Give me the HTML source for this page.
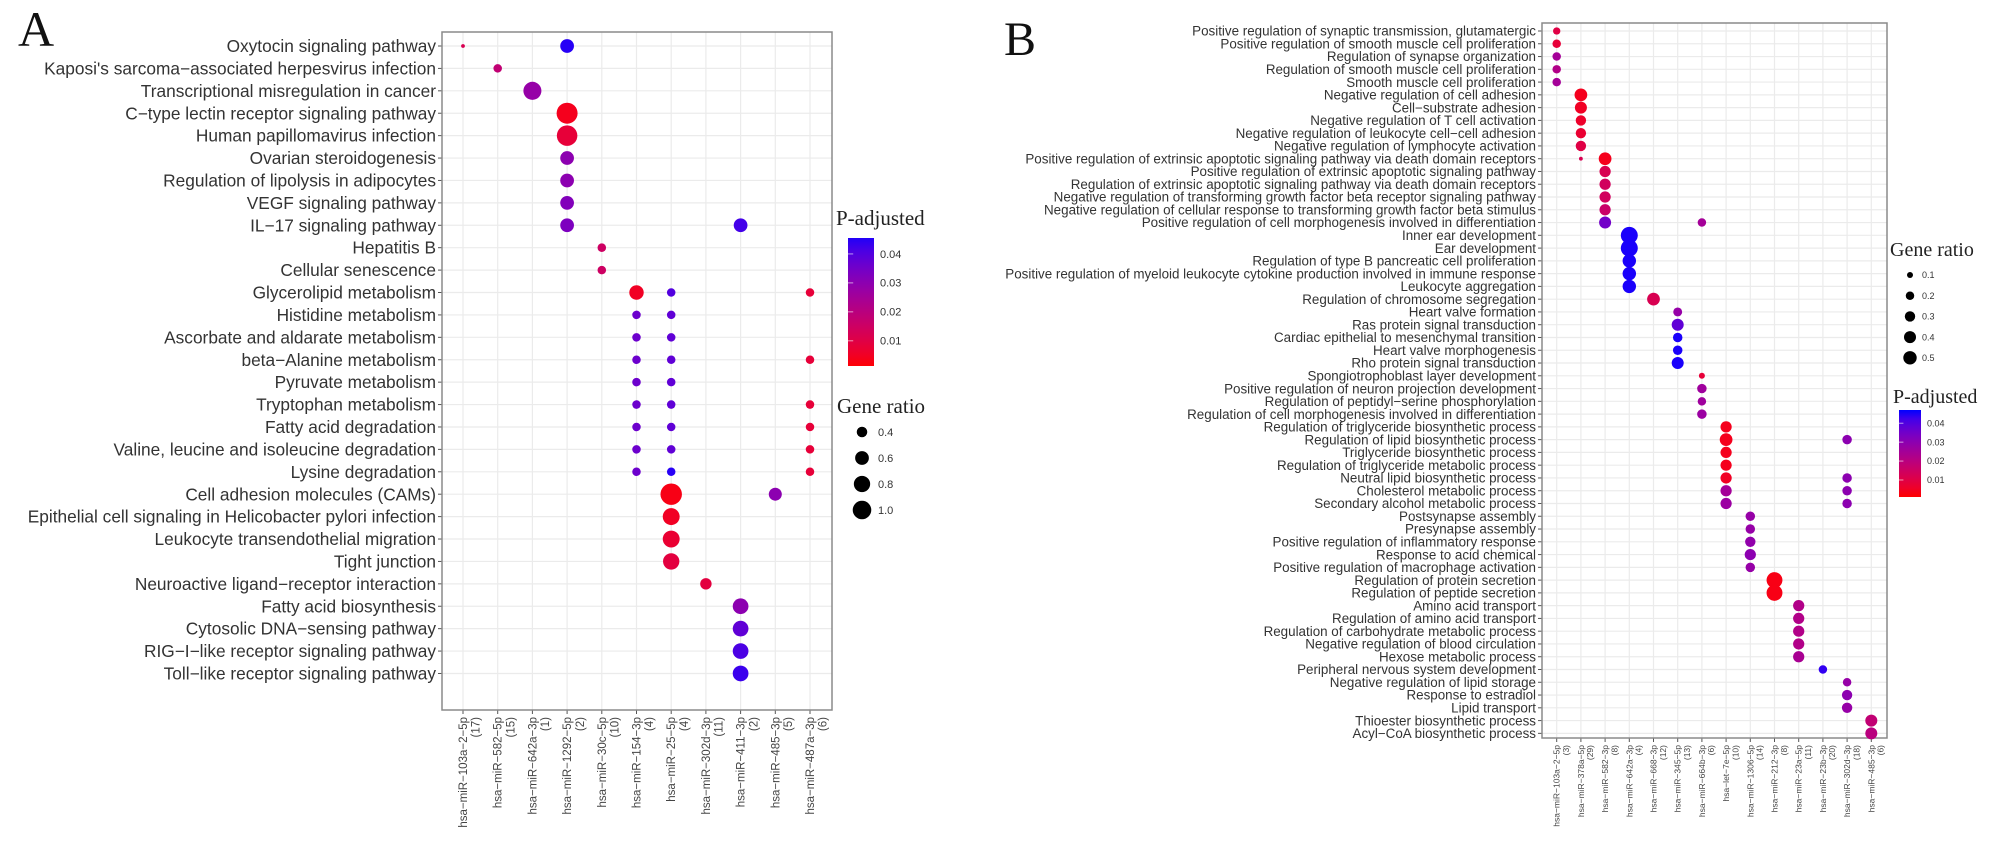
<!DOCTYPE html>
<html><head><meta charset="utf-8">
<style>
html,body{margin:0;padding:0;background:#fff;}
svg{display:block;}
text{font-family:"Liberation Sans",sans-serif;}
.serif{font-family:"Liberation Serif",serif;}
</style></head>
<body>
<svg id="fig" width="2008" height="852" viewBox="0 0 2008 852" xmlns="http://www.w3.org/2000/svg">
  <text class="serif" x="18" y="46" font-size="50" fill="#111">A</text>
  <text class="serif" x="1004" y="55" font-size="48" fill="#111">B</text>
  <g id="pa"></g>
  <g id="pb"></g>
</svg>
<script>
// ---------- Panel A data ----------
const aTerms = ["Oxytocin signaling pathway","Kaposi's sarcoma\u2212associated herpesvirus infection","Transcriptional misregulation in cancer","C\u2212type lectin receptor signaling pathway","Human papillomavirus infection","Ovarian steroidogenesis","Regulation of lipolysis in adipocytes","VEGF signaling pathway","IL\u221217 signaling pathway","Hepatitis B","Cellular senescence","Glycerolipid metabolism","Histidine metabolism","Ascorbate and aldarate metabolism","beta\u2212Alanine metabolism","Pyruvate metabolism","Tryptophan metabolism","Fatty acid degradation","Valine, leucine and isoleucine degradation","Lysine degradation","Cell adhesion molecules (CAMs)","Epithelial cell signaling in Helicobacter pylori infection","Leukocyte transendothelial migration","Tight junction","Neuroactive ligand\u2212receptor interaction","Fatty acid biosynthesis","Cytosolic DNA\u2212sensing pathway","RIG\u2212I\u2212like receptor signaling pathway","Toll\u2212like receptor signaling pathway"];
const aMirs = ["hsa\u2212miR\u2212103a\u22122\u22125p","hsa\u2212miR\u2212582\u22125p","hsa\u2212miR\u2212642a\u22123p","hsa\u2212miR\u22121292\u22125p","hsa\u2212miR\u221230c\u22125p","hsa\u2212miR\u2212154\u22123p","hsa\u2212miR\u221225\u22125p","hsa\u2212miR\u2212302d\u22123p","hsa\u2212miR\u2212411\u22123p","hsa\u2212miR\u2212485\u22123p","hsa\u2212miR\u2212487a\u22123p"];
const aCounts = ["(17)","(15)","(1)","(2)","(10)","(4)","(4)","(11)","(2)","(5)","(6)"];
const aRow   = [0,0,1,2,3,4,5,6,7,8,8,9,10,11,11,11,12,12,13,13,14,14,14,15,15,16,16,16,17,17,17,18,18,18,19,19,19,20,20,21,22,23,24,25,26,27,28];
const aCol   = [0,3,1,2,3,3,3,3,3,3,8,4,4,5,6,10,5,6,5,6,5,6,10,5,6,5,6,10,5,6,10,5,6,10,5,6,10,6,9,6,6,6,7,8,8,8,8];
const aRatio = [0.15,0.6,0.3,0.95,1.25,1.2,0.6,0.6,0.6,0.6,0.6,0.3,0.3,0.65,0.3,0.3,0.3,0.3,0.3,0.3,0.3,0.3,0.3,0.3,0.3,0.3,0.3,0.3,0.3,0.3,0.3,0.3,0.3,0.3,0.3,0.3,0.3,1.3,0.55,0.85,0.85,0.8,0.45,0.75,0.75,0.75,0.75];
const aPadj  = [0.012,0.045,0.018,0.028,0.004,0.008,0.030,0.030,0.032,0.033,0.042,0.015,0.015,0.005,0.040,0.008,0.036,0.038,0.036,0.038,0.036,0.038,0.008,0.036,0.038,0.036,0.038,0.008,0.036,0.038,0.008,0.036,0.038,0.008,0.036,0.045,0.008,0.003,0.030,0.005,0.007,0.009,0.009,0.030,0.038,0.041,0.043];
const aColTicks = [0.01,0.02,0.03,0.04];
const aSizeTicks = [0.4,0.6,0.8,1.0];

// ---------- Panel B data ----------
const bTerms = ["Positive regulation of synaptic transmission, glutamatergic","Positive regulation of smooth muscle cell proliferation","Regulation of synapse organization","Regulation of smooth muscle cell proliferation","Smooth muscle cell proliferation","Negative regulation of cell adhesion","Cell\u2212substrate adhesion","Negative regulation of T cell activation","Negative regulation of leukocyte cell\u2212cell adhesion","Negative regulation of lymphocyte activation","Positive regulation of extrinsic apoptotic signaling pathway via death domain receptors","Positive regulation of extrinsic apoptotic signaling pathway","Regulation of extrinsic apoptotic signaling pathway via death domain receptors","Negative regulation of transforming growth factor beta receptor signaling pathway","Negative regulation of cellular response to transforming growth factor beta stimulus","Positive regulation of cell morphogenesis involved in differentiation","Inner ear development","Ear development","Regulation of type B pancreatic cell proliferation","Positive regulation of myeloid leukocyte cytokine production involved in immune response","Leukocyte aggregation","Regulation of chromosome segregation","Heart valve formation","Ras protein signal transduction","Cardiac epithelial to mesenchymal transition","Heart valve morphogenesis","Rho protein signal transduction","Spongiotrophoblast layer development","Positive regulation of neuron projection development","Regulation of peptidyl\u2212serine phosphorylation","Regulation of cell morphogenesis involved in differentiation","Regulation of triglyceride biosynthetic process","Regulation of lipid biosynthetic process","Triglyceride biosynthetic process","Regulation of triglyceride metabolic process","Neutral lipid biosynthetic process","Cholesterol metabolic process","Secondary alcohol metabolic process","Postsynapse assembly","Presynapse assembly","Positive regulation of inflammatory response","Response to acid chemical","Positive regulation of macrophage activation","Regulation of protein secretion","Regulation of peptide secretion","Amino acid transport","Regulation of amino acid transport","Regulation of carbohydrate metabolic process","Negative regulation of blood circulation","Hexose metabolic process","Peripheral nervous system development","Negative regulation of lipid storage","Response to estradiol","Lipid transport","Thioester biosynthetic process","Acyl\u2212CoA biosynthetic process"];
const bMirs = ["hsa\u2212miR\u2212103a\u22122\u22125p","hsa\u2212miR\u2212378a\u22125p","hsa\u2212miR\u2212582\u22123p","hsa\u2212miR\u2212642a\u22123p","hsa\u2212miR\u2212668\u22123p","hsa\u2212miR\u2212345\u22125p","hsa\u2212miR\u2212664b\u22123p","hsa\u2212let\u22127e\u22125p","hsa\u2212miR\u22121306\u22125p","hsa\u2212miR\u2212212\u22123p","hsa\u2212miR\u221223a\u22125p","hsa\u2212miR\u221223b\u22123p","hsa\u2212miR\u2212302d\u22123p","hsa\u2212miR\u2212485\u22123p"];
const bCounts = ["(3)","(29)","(8)","(4)","(12)","(13)","(6)","(10)","(14)","(8)","(11)","(20)","(18)","(6)"];
const bRow   = [0,1,2,3,4,5,6,7,8,9,10,10,11,12,13,14,15,15,16,17,18,19,20,21,22,23,24,25,26,27,28,29,30,31,32,33,34,35,36,37,32,35,36,37,38,39,40,41,42,43,44,45,46,47,48,49,50,51,52,53,54,55];
const bCol   = [0,0,0,0,0,1,1,1,1,1,1,2,2,2,2,2,2,6,3,3,3,3,3,4,5,5,5,5,5,6,6,6,6,7,7,7,7,7,7,7,12,12,12,12,8,8,8,8,8,9,9,10,10,10,10,10,11,12,12,12,13,13];
const bRatio = [0.15,0.2,0.2,0.2,0.2,0.45,0.4,0.3,0.3,0.3,0.04,0.45,0.35,0.35,0.35,0.35,0.4,0.2,0.8,0.8,0.5,0.5,0.5,0.45,0.22,0.4,0.25,0.25,0.4,0.1,0.25,0.2,0.25,0.35,0.45,0.35,0.35,0.35,0.35,0.35,0.25,0.25,0.25,0.25,0.25,0.25,0.3,0.35,0.25,0.7,0.7,0.35,0.35,0.35,0.35,0.35,0.2,0.2,0.3,0.3,0.4,0.4];
const bPadj  = [0.010,0.008,0.025,0.022,0.025,0.004,0.005,0.006,0.007,0.010,0.012,0.004,0.012,0.014,0.014,0.016,0.035,0.025,0.046,0.046,0.046,0.046,0.046,0.012,0.028,0.038,0.046,0.046,0.046,0.008,0.026,0.026,0.027,0.004,0.004,0.004,0.004,0.005,0.025,0.027,0.030,0.030,0.030,0.030,0.028,0.028,0.029,0.030,0.028,0.003,0.003,0.022,0.022,0.022,0.022,0.024,0.044,0.028,0.030,0.028,0.018,0.020];
const bColTicks = [0.01,0.02,0.03,0.04];
const bSizeTicks = [0.1,0.2,0.3,0.4,0.5];

const NS = "http://www.w3.org/2000/svg";
function mk(parent, tag, attrs, txt){
  const e = document.createElementNS(NS, tag);
  for (const k in attrs) e.setAttribute(k, attrs[k]);
  if (txt !== undefined) e.textContent = txt;
  parent.appendChild(e);
  return e;
}
function colorOf(p){
  let t = (p - 0.001) / (0.047 - 0.001);
  t = Math.max(0, Math.min(1, t));
  const r = Math.round(255 * Math.pow(1 - t, 0.6)), b = Math.round(255 * Math.pow(t, 0.8));
  return "rgb(" + r + ",0," + b + ")";
}

function drawPanel(g, cfg){
  const xScale = c => cfg.x0 + c * cfg.dx;
  const yScale = r => cfg.y0 + r * cfg.dy;
  const rScale = v => Math.sqrt(Math.max(1, cfg.k * v + cfg.c));
  const bg = mk(g, "rect", {x:cfg.L, y:cfg.T, width:cfg.R-cfg.L, height:cfg.B-cfg.T, fill:"#fff"});
  
  
  for (let i = 0; i < cfg.terms.length; i++) {
    const y = yScale(i);
    const gl = mk(g, "line", {x1:cfg.L, x2:cfg.R, y1:y, y2:y, stroke:"#ebebeb", "stroke-width":1.2});
    
    
    const tk = mk(g, "line", {x1:cfg.L-4, x2:cfg.L, y1:y, y2:y, stroke:"#555", "stroke-width":1});
    
    
    const lb = mk(g, "text", {x:cfg.L-6, y:y+cfg.fs*0.35, "font-size":cfg.fs, "text-anchor":"end", fill:"#333"}, cfg.terms[i]);
    
    
  }
  for (let j = 0; j < cfg.mirs.length; j++) {
    const x = xScale(j);
    const gl = mk(g, "line", {x1:x, x2:x, y1:cfg.T, y2:cfg.B, stroke:"#ebebeb", "stroke-width":1.2});
    
    
    const tk = mk(g, "line", {x1:x, x2:x, y1:cfg.B, y2:cfg.B+4, stroke:"#555", "stroke-width":1});
    
    
    const ty = cfg.B + 7;
    const t1 = mk(g, "text", {x:0, y:0, "font-size":cfg.xfs, "text-anchor":"end", fill:"#444",
      transform:"translate(" + (x + cfg.xfs*0.35) + "," + ty + ") rotate(-90)"}, cfg.mirs[j]);
    
    
    const t2 = mk(g, "text", {x:0, y:0, "font-size":cfg.xfs, "text-anchor":"end", fill:"#444",
      transform:"translate(" + (x + cfg.xfs*1.45) + "," + ty + ") rotate(-90)"}, cfg.counts[j]);
    
    
  }
  const fr = mk(g, "rect", {x:cfg.L, y:cfg.T, width:cfg.R-cfg.L, height:cfg.B-cfg.T, fill:"none", stroke:"#8a8a8a", "stroke-width":1.5});
  
  
  for (let i = 0; i < cfg.row.length; i++) {
    const d = mk(g, "circle", {cx:xScale(cfg.col[i]), cy:yScale(cfg.row[i]), r:rScale(cfg.ratio[i]), fill:colorOf(cfg.padj[i])});
    
    
  }
  const lg = cfg.leg;
  const pt = mk(g, "text", {x:lg.px, y:lg.py, "font-size":lg.tfs, fill:"#222", "class":"serif"}, "P-adjusted");
  
  
  const gid = cfg.p + "grad";
  const defs = mk(g, "defs", {});
  const lgr = mk(defs, "linearGradient", {id:gid, x1:0, y1:1, x2:0, y2:0});
  for (let s = 0; s <= 10; s++) {
    const pv = lg.vmin + (lg.vmax - lg.vmin) * s / 10;
    mk(lgr, "stop", {offset:(s*10)+"%", "stop-color":colorOf(pv)});
  }
  const cb = mk(g, "rect", {x:lg.bx, y:lg.by0, width:lg.bw, height:lg.by1-lg.by0, fill:"url(#"+gid+")"});
  
  
  const cy = v => lg.by1 - (v - lg.vmin) / (lg.vmax - lg.vmin) * (lg.by1 - lg.by0);
  for (const v of cfg.colTicks) {
    const tl = mk(g, "text", {x:lg.bx+lg.bw+6, y:cy(v)+lg.lfs*0.35, "font-size":lg.lfs, fill:"#333"}, v.toFixed(2));
    
    
    const tm = mk(g, "line", {x1:lg.bx, x2:lg.bx+lg.bw*0.2, y1:cy(v), y2:cy(v), stroke:"#fff", "stroke-width":1, opacity:0.6});
    
    
  }
  const st = mk(g, "text", {x:lg.sx, y:lg.sy, "font-size":lg.tfs, fill:"#222", "class":"serif"}, "Gene ratio");
  
  
  cfg.sizeTicks.forEach((v, i) => {
    const y = lg.sy0 + i * lg.sdy;
    const c = mk(g, "circle", {cx:lg.dx, cy:y, r:rScale(v), fill:"#000"});
    
    
    const t = mk(g, "text", {x:lg.dx+lg.loff, y:y+lg.lfs*0.35, "font-size":lg.lfs, fill:"#333"}, v.toFixed(1));
    
    
  });
}

drawPanel(document.getElementById("pa"), {
  p:"panel-a", terms:aTerms, mirs:aMirs, counts:aCounts,
  row:aRow, col:aCol, ratio:aRatio, padj:aPadj, colTicks:aColTicks, sizeTicks:aSizeTicks,
  L:442, R:832, T:32, B:710, x0:463, dx:34.7, y0:46, dy:22.41, fs:17.3, xfs:11.5,
  k:97, c:-11,
  leg:{px:836, py:225, tfs:21, bx:848, bw:26, by0:238, by1:366, vmin:0.0013, vmax:0.0455, lfs:11,
       sx:837, sy:413, sy0:432, sdy:26, dx:862, loff:16}
});
drawPanel(document.getElementById("pb"), {
  p:"panel-b", terms:bTerms, mirs:bMirs, counts:bCounts,
  row:bRow, col:bCol, ratio:bRatio, padj:bPadj, colTicks:bColTicks, sizeTicks:bSizeTicks,
  L:1542, R:1887, T:23, B:738, x0:1556.7, dx:24.2, y0:31, dy:12.77, fs:13.4, xfs:8.5,
  k:90, c:0,
  leg:{px:1893, py:403, tfs:20, bx:1899, bw:22, by0:410, by1:497, vmin:0.001, vmax:0.047, lfs:9,
       sx:1890, sy:256, sy0:275, sdy:20.7, dx:1910, loff:12}
});
</script>
</body></html>
